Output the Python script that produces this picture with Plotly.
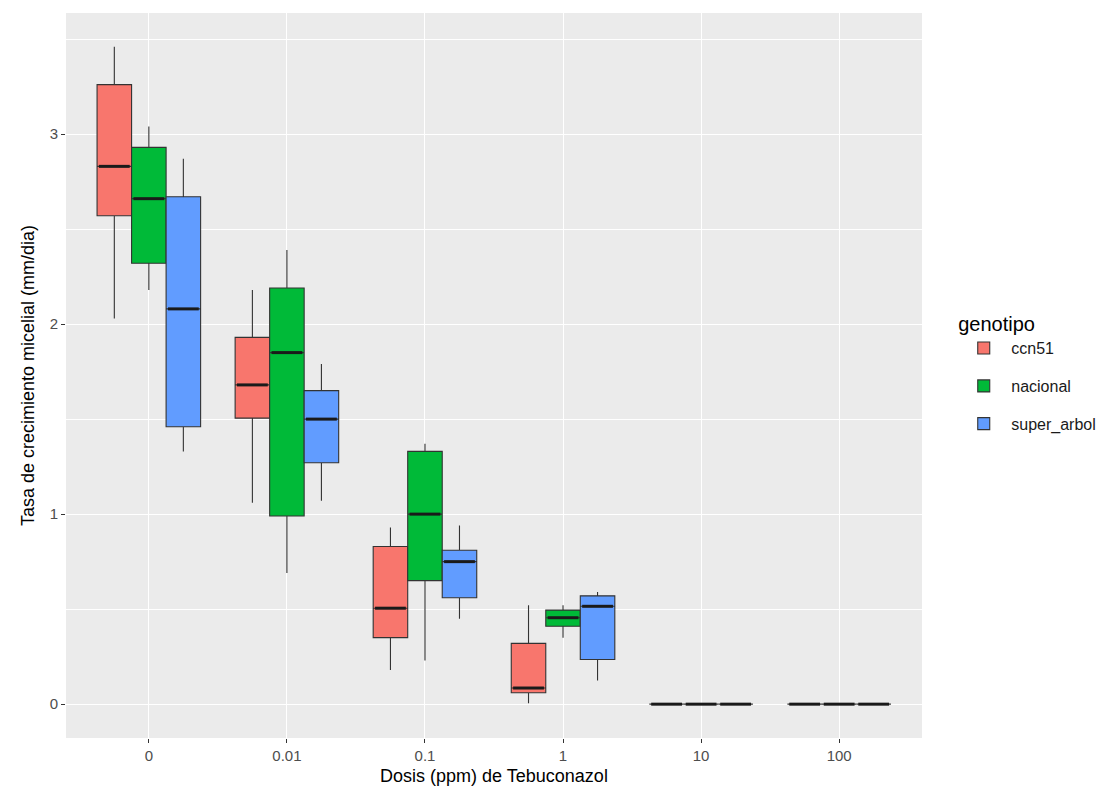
import plotly.graph_objects as go

# Dose levels (ppm of tebuconazole) and genotypes
dosis = ["0", "0.01", "0.1", "1", "10", "100"]
genotipos = ["ccn51", "nacional", "super_arbol"]
colores = ["#F8766D", "#00BA38", "#619CFF"]

# Box statistics per genotype, one value per dose level
ccn51_low = [2.03, 1.06, 0.18, 0.005, 0, 0]
ccn51_q1 = [2.57, 1.505, 0.35, 0.06, 0, 0]
ccn51_med = [2.83, 1.68, 0.505, 0.085, 0, 0]
ccn51_q3 = [3.26, 1.93, 0.83, 0.32, 0, 0]
ccn51_high = [3.46, 2.18, 0.93, 0.52, 0, 0]

nacional_low = [2.18, 0.69, 0.23, 0.35, 0, 0]
nacional_q1 = [2.32, 0.99, 0.65, 0.41, 0, 0]
nacional_med = [2.66, 1.85, 1.00, 0.455, 0, 0]
nacional_q3 = [2.93, 2.19, 1.33, 0.495, 0, 0]
nacional_high = [3.04, 2.39, 1.37, 0.52, 0, 0]

super_low = [1.33, 1.07, 0.45, 0.125, 0, 0]
super_q1 = [1.46, 1.27, 0.56, 0.235, 0, 0]
super_med = [2.08, 1.50, 0.75, 0.515, 0, 0]
super_q3 = [2.67, 1.65, 0.81, 0.57, 0, 0]
super_high = [2.87, 1.79, 0.94, 0.59, 0, 0]

stats = [
    (ccn51_low, ccn51_q1, ccn51_med, ccn51_q3, ccn51_high),
    (nacional_low, nacional_q1, nacional_med, nacional_q3, nacional_high),
    (super_low, super_q1, super_med, super_q3, super_high),
]

fig = go.Figure()

for name, color, (lo, q1, med, q3, hi) in zip(genotipos, colores, stats):
    fig.add_trace(go.Box(
        name=name, x=dosis, q1=q1, median=med, q3=q3,
        lowerfence=lo, upperfence=hi,
        fillcolor=color, line=dict(color="#333333", width=1.1),
        whiskerwidth=0, boxpoints=False, offsetgroup=name,
        legendgroup=name, hoverinfo="skip",
    ))

# Thicker median bars drawn on top, positioned by the grouped scatter layout
for name, (lo, q1, med, q3, hi) in zip(genotipos, stats):
    fig.add_trace(go.Scatter(
        x=dosis, y=med, mode="markers", offsetgroup=name,
        marker=dict(symbol="line-ew", size=22,
                    line=dict(color="#1a1a1a", width=3)),
        showlegend=False, hoverinfo="skip",
    ))

font = "Liberation Sans, Arial, sans-serif"

fig.update_layout(
    width=1115, height=799,
    margin=dict(l=66, r=193, t=13, b=61),
    paper_bgcolor="white", plot_bgcolor="#EBEBEB",
    boxmode="group", boxgap=0.25, boxgroupgap=0,
    scattermode="group", scattergap=0.25,
    font=dict(family=font, color="#000000"),
    showlegend=True,
    legend=dict(
        title=dict(text="genotipo", font=dict(size=20, color="#000000")),
        font=dict(size=16, color="#1a1a1a"),
        x=1.04, xanchor="left", y=0.597, yanchor="top",
        bgcolor="rgba(0,0,0,0)", tracegroupgap=14, itemwidth=45,
        traceorder="grouped",
    ),
    xaxis=dict(
        type="category", categoryorder="array", categoryarray=dosis,
        range=[-0.6, 5.6], showgrid=True, gridcolor="white", gridwidth=1.3,
        zeroline=False, ticks="outside", ticklen=4, tickcolor="#333333",
        tickfont=dict(size=15, color="#4D4D4D"),
        title=dict(text="Dosis (ppm) de Tebuconazol",
                   font=dict(size=18, color="#000000"), standoff=6),
    ),
    yaxis=dict(
        range=[-0.178, 3.637], tickvals=[0, 1, 2, 3],
        showgrid=True, gridcolor="white", gridwidth=1.3, zeroline=False,
        ticks="outside", ticklen=4, tickcolor="#333333",
        tickfont=dict(size=15, color="#4D4D4D"),
        minor=dict(tickvals=[0.5, 1.5, 2.5, 3.5], showgrid=True,
                   gridcolor="white", gridwidth=0.6, ticks=""),
        title=dict(text="Tasa de crecimiento micelial (mm/dia)",
                   font=dict(size=18, color="#000000"), standoff=10),
    ),
)

fig.write_html("out.html")
